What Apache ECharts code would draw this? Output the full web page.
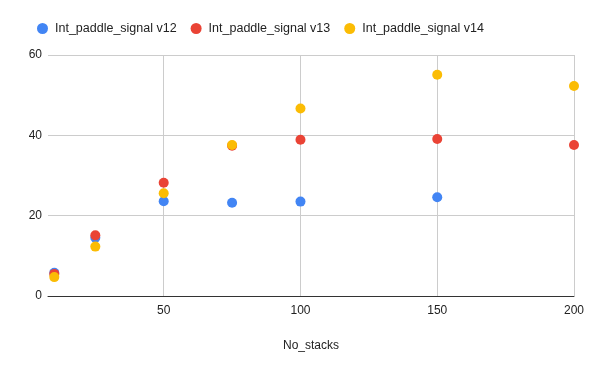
<!DOCTYPE html>
<html><head><meta charset="utf-8">
<script src="https://cdn.jsdelivr.net/npm/echarts@6/dist/echarts.min.js"></script>
<style>html,body{margin:0;padding:0;background:#fff}#c{width:600px;height:371px}</style>
</head><body><div id="c"></div>
<script>
const xValues = [10, 25, 50, 75, 100, 150, 200];
const v12 = [5.8, 14.5, 23.6, 23.2, 23.5, 24.6, null];
const v13 = [5.5, 15.1, 28.2, 37.4, 38.9, 39.1, 37.6];
const v14 = [4.7, 12.3, 25.6, 37.6, 46.7, 55.1, 52.3];
const seriesNames = ['Int_paddle_signal v12', 'Int_paddle_signal v13', 'Int_paddle_signal v14'];
const xTicks = [50, 100, 150, 200];
const colors = ['#4285F4', '#EA4335', '#FBBC04'];

function pairs(arr){ const out=[]; xValues.forEach((x,i)=>{ if(arr[i]!=null) out.push([x,arr[i]]); }); return out; }
const font = 'Arial, "Liberation Sans", sans-serif';
const chart = echarts.init(document.getElementById('c'));
chart.setOption({
  animation:false,
  color: colors,
  textStyle:{fontFamily:font},
  legend:{
    top:17, left:32, icon:'circle', itemWidth:11, itemHeight:11, itemGap:14,
    textStyle:{fontSize:12.5, color:'#222', fontFamily:font, padding:[0,0,0,2]},
    data: seriesNames
  },
  grid:{left:48, right:26, top:55, bottom:75, containLabel:false},
  xAxis:{
    type:'value', min:7.7, max:200,
    name:'No_stacks', nameLocation:'middle', nameGap:44,
    nameTextStyle:{fontSize:12, color:'#222', fontFamily:font},
    axisLine:{show:true, onZero:false, lineStyle:{color:'#333', width:1}},
    axisTick:{show:false, customValues:xTicks},
    axisLabel:{customValues:xTicks, fontSize:12, color:'#222', margin:9, fontFamily:font},
    splitLine:{show:true, lineStyle:{color:'#cccccc', width:1}}
  },
  yAxis:{
    type:'value', min:0, max:60, interval:20,
    axisLine:{show:false}, axisTick:{show:false},
    axisLabel:{fontSize:12, color:'#222', margin:6, fontFamily:font},
    splitLine:{show:true, lineStyle:{color:'#cccccc', width:1}}
  },
  series:[
    {name:seriesNames[0], type:'scatter', symbolSize:10, itemStyle:{opacity:1}, data:pairs(v12)},
    {name:seriesNames[1], type:'scatter', symbolSize:10, itemStyle:{opacity:1}, data:pairs(v13)},
    {name:seriesNames[2], type:'scatter', symbolSize:10, itemStyle:{opacity:1}, data:pairs(v14)}
  ]
});
</script></body></html>
